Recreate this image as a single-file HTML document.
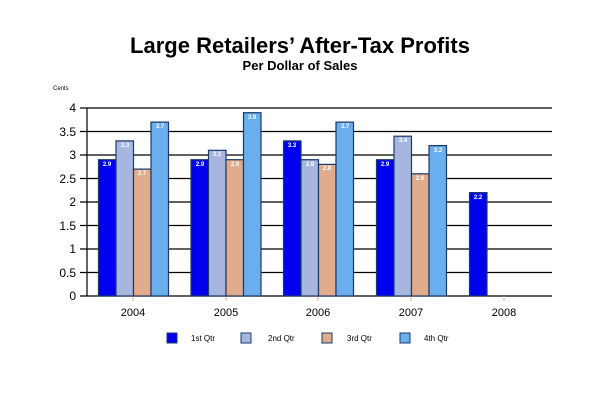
<!DOCTYPE html>
<html><head><meta charset="utf-8"><style>body{margin:0;background:#fff}</style></head><body>
<svg width="600" height="400" xmlns="http://www.w3.org/2000/svg" font-family="Liberation Sans, Arial, sans-serif">
<rect width="600" height="400" fill="#fff"/>
<text x="300" y="53" text-anchor="middle" font-size="22" font-weight="bold">Large Retailers’ After-Tax Profits</text>
<text x="300" y="70" text-anchor="middle" font-size="13" font-weight="bold">Per Dollar of Sales</text>
<text x="53" y="90" font-size="6">Cents</text>
<g stroke="#000" stroke-width="1.2">
<line x1="80" x2="552" y1="108" y2="108"/><line x1="80" x2="552" y1="131.5" y2="131.5"/>
<line x1="80" x2="552" y1="155" y2="155"/><line x1="80" x2="552" y1="178.5" y2="178.5"/>
<line x1="80" x2="552" y1="202" y2="202"/><line x1="80" x2="552" y1="225.5" y2="225.5"/>
<line x1="80" x2="552" y1="249" y2="249"/><line x1="80" x2="552" y1="272.5" y2="272.5"/>
<line x1="80" x2="552" y1="296" y2="296"/><line x1="87" x2="87" y1="108" y2="296"/>
</g>
<g font-size="12" text-anchor="end">
<text x="76" y="112">4</text><text x="76" y="136">3.5</text><text x="76" y="159">3</text><text x="76" y="183">2.5</text><text x="76" y="206">2</text><text x="76" y="230">1.5</text><text x="76" y="253">1</text><text x="76" y="277">0.5</text><text x="76" y="300">0</text>
</g>
<g stroke="#e0ac8c"><line x1="133" x2="133" y1="296" y2="301"/><line x1="226" x2="226" y1="296" y2="301"/><line x1="318" x2="318" y1="296" y2="301"/><line x1="411" x2="411" y1="296" y2="301"/><line x1="504" x2="504" y1="296" y2="301"/></g>
<g font-size="11" text-anchor="middle">
<text x="133" y="316">2004</text><text x="226" y="316">2005</text><text x="318" y="316">2006</text><text x="411" y="316">2007</text><text x="504" y="316">2008</text>
</g>
<g stroke="#1a3a6a" stroke-width="1.2">
<rect x="98.5" y="159.7" width="17.5" height="136.3" fill="#0000ee"/>
<rect x="116" y="140.9" width="17.5" height="155.1" fill="#a6b6de"/>
<rect x="133.5" y="169.1" width="17.5" height="126.9" fill="#e0ac8c"/>
<rect x="151" y="122.1" width="17.5" height="173.9" fill="#6aaeee"/>
<rect x="191" y="159.7" width="17.5" height="136.3" fill="#0000ee"/>
<rect x="208.5" y="150.3" width="17.5" height="145.7" fill="#a6b6de"/>
<rect x="226" y="159.7" width="17.5" height="136.3" fill="#e0ac8c"/>
<rect x="243.5" y="112.7" width="17.5" height="183.3" fill="#6aaeee"/>
<rect x="283.5" y="140.9" width="17.5" height="155.1" fill="#0000ee"/>
<rect x="301" y="159.7" width="17.5" height="136.3" fill="#a6b6de"/>
<rect x="318.5" y="164.4" width="17.5" height="131.6" fill="#e0ac8c"/>
<rect x="336" y="122.1" width="17.5" height="173.9" fill="#6aaeee"/>
<rect x="376.5" y="159.7" width="17.5" height="136.3" fill="#0000ee"/>
<rect x="394" y="136.2" width="17.5" height="159.8" fill="#a6b6de"/>
<rect x="411.5" y="173.8" width="17.5" height="122.2" fill="#e0ac8c"/>
<rect x="429" y="145.6" width="17.5" height="150.4" fill="#6aaeee"/>
<rect x="469.5" y="192.6" width="17.5" height="103.4" fill="#0000ee"/>
</g>
<g font-size="6" fill="#fff" text-anchor="middle" font-weight="bold">
<text x="107" y="166">2.9</text><text x="125" y="147">3.3</text><text x="142" y="175">2.7</text><text x="160" y="128">3.7</text>
<text x="200" y="166">2.9</text><text x="217" y="156">3.1</text><text x="235" y="166">2.9</text><text x="252" y="119">3.9</text>
<text x="292" y="147">3.3</text><text x="310" y="166">2.9</text><text x="327" y="170">2.8</text><text x="345" y="128">3.7</text>
<text x="385" y="166">2.9</text><text x="403" y="142">3.4</text><text x="420" y="180">2.6</text><text x="438" y="152">3.2</text>
<text x="478" y="199">2.2</text>
</g>
<g stroke="#1a3a6a">
<rect x="167" y="333" width="10" height="10" fill="#0000ee"/>
<rect x="241" y="333" width="10" height="10" fill="#a6b6de"/>
<rect x="322" y="333" width="10" height="10" fill="#e0ac8c"/>
<rect x="400" y="333" width="10" height="10" fill="#6aaeee"/>
</g>
<g font-size="8">
<text x="191" y="341">1st Qtr</text><text x="268" y="341">2nd Qtr</text><text x="347" y="341">3rd Qtr</text><text x="424" y="341">4th Qtr</text>
</g>
</svg>
</body></html>
